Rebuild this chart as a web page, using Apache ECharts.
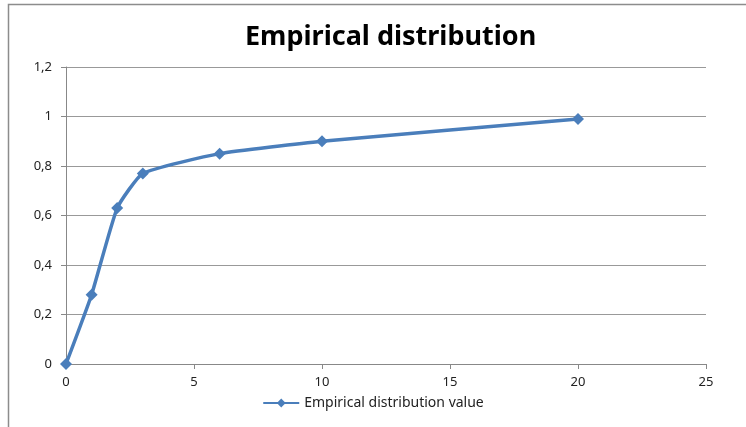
<!DOCTYPE html>
<html><head><meta charset="utf-8">
<script src="https://cdn.jsdelivr.net/npm/echarts@6/dist/echarts.min.js"></script>
<style>html,body{margin:0;padding:0;background:#fff}#c{width:746px;height:427px}</style>
</head><body><div id="c"></div>
<script>
var xValues = [0, 1, 2, 3, 6, 10, 20];
var yValues = [0, 0.28, 0.63, 0.77, 0.85, 0.90, 0.99];
var seriesName = 'Empirical distribution value';
var titleText = 'Empirical distribution';

var chart = echarts.init(document.getElementById('c'));
var data = xValues.map(function(x, i){ return [x, yValues[i]]; });
chart.setOption({
  animation: false,
  title: { text: titleText, left: 240, top: 19,
    textStyle: { fontFamily: 'Noto Sans', fontWeight: 'bold', fontSize: 27, color: '#000' } },
  graphic: [{ type: 'polyline', shape: { points: [[8.5, 430], [8.5, 4.5], [750, 4.5]] },
    style: { stroke: '#8c8c8c', lineWidth: 1.5, fill: null } }],
  legend: { bottom: 12, left: 'center', itemWidth: 36, itemHeight: 11, itemGap: 4,
    textStyle: { fontFamily: 'Noto Sans', fontSize: 14, color: '#222' },
    data: [{ name: seriesName }] },
  grid: { left: 66, right: 40, top: 67, bottom: 63 },
  xAxis: { type: 'value', min: 0, max: 25, interval: 5,
    axisLine: { lineStyle: { color: '#888' } },
    axisTick: { show: true, length: 5, lineStyle: { color: '#888' } },
    axisLabel: { fontFamily: 'Noto Sans', fontSize: 13, color: '#222', margin: 12 },
    splitLine: { show: false } },
  yAxis: { type: 'value', min: 0, max: 1.2, interval: 0.2,
    axisLine: { show: true, lineStyle: { color: '#888' } },
    axisTick: { show: true, length: 5, lineStyle: { color: '#888' } },
    axisLabel: { fontFamily: 'Noto Sans', fontSize: 13, color: '#222', margin: 14,
      formatter: function(v){ return String(Math.round(v*10)/10).replace('.', ','); } },
    splitLine: { lineStyle: { color: '#999' } } },
  series: [{ name: seriesName, type: 'line', data: data, smooth: 0.15,
    symbol: 'diamond', symbolSize: 12,
    lineStyle: { color: '#4a7ebb', width: 3.5 },
    itemStyle: { color: '#4a7ebb' } }]
});
</script></body></html>
